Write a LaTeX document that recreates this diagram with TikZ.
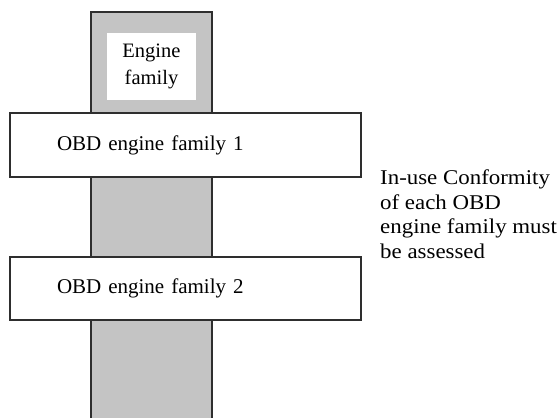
\documentclass[tikz,border=0pt]{standalone}
\usepackage{fontspec}
\setmainfont{Liberation Serif}
\newfontfamily\notefont[FakeStretch=1.09]{Liberation Serif}
\newfontfamily\boxfont[WordSpace=1.45]{Liberation Serif}
\usepackage{xcolor}
\usepackage{tikz}
\usetikzlibrary{positioning}

\definecolor{colgray}{HTML}{C4C4C4}
\definecolor{edgegray}{HTML}{2E2E2E}
\newcommand{\noindentbox}{\parindent=0pt\relax}

\begin{document}
\begin{tikzpicture}[x=1pt, y=-1pt,
    familybox/.style={draw=edgegray, line width=2.2pt, fill=white, rectangle,
        minimum width=351pt, minimum height=64pt, inner xsep=47pt,
        text width=257pt,
        font=\boxfont\fontsize{21}{24}\selectfont\noindentbox},
    notetext/.style={align=left, inner sep=0pt,
        font=\notefont\fontsize{21}{24.5}\selectfont}]

    % =================================================================
    % KHUNG ẢNH
    % =================================================================
    \useasboundingbox (0,0) rectangle (558,418);

    % =================================================================
    % CỘT XÁM (ENGINE FAMILY)
    % =================================================================
    \coordinate (col_bl) at (91,418);
    \coordinate (col_tl) at (91,12);
    \coordinate (col_tr) at (212,12);
    \coordinate (col_br) at (212,418);

    \fill[colgray] (col_bl) rectangle (col_tr);
    \draw[edgegray, line width=2.8pt] (col_bl) -- (col_tl) -- (col_tr) -- (col_br);

    % Ô trắng ở đỉnh cột
    \node[fill=white, minimum width=89pt, minimum height=67pt, align=center,
          font=\fontsize{20.5}{27}\selectfont] (engine) at (151.5,66.5)
          {Engine\\family};

    % =================================================================
    % CÁC HỘP OBD
    % =================================================================
    \node[familybox] (obd1) at (185.5,145) {OBD engine family 1};
    \node[familybox, minimum height=63pt] (obd2) at (185.5,288.5) {OBD engine family 2};

    % =================================================================
    % GHI CHÚ BÊN PHẢI
    % =================================================================
    \node[notetext, anchor=north west] (note) at (380,170)
        {In-use Conformity\\of each OBD\\engine family must\\be assessed};

\end{tikzpicture}
\end{document}
